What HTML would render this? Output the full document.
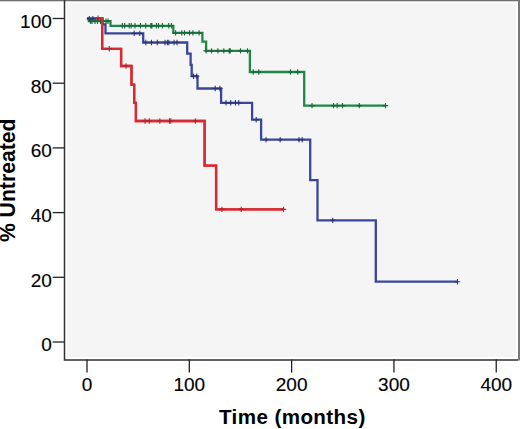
<!DOCTYPE html>
<html><head><meta charset="utf-8"><style>
html,body{margin:0;padding:0;background:#fff;}
body{width:520px;height:429px;overflow:hidden;}
svg{display:block;}
.t{font-family:"Liberation Sans",sans-serif;font-size:19px;fill:#000;stroke:#000;stroke-width:0.15px;}
.b{font-family:"Liberation Sans",sans-serif;font-size:21.2px;font-weight:bold;fill:#000;}
</style></head><body>
<svg width="520" height="429" viewBox="0 0 520 429">
<rect x="0" y="0" width="520" height="429" fill="#fff"/>
<rect x="64.5" y="0.7" width="454.40" height="358.90" fill="#fff"/>
<rect x="67.00" y="3.20" width="449.40" height="353.90" fill="#f5f5f5"/>
<path d="M87.00,18.30 L102.20,18.30 L102.20,48.80 L121.10,48.80 L121.10,66.00 L131.50,66.00 L131.50,84.60 L134.20,84.60 L134.20,102.90 L135.90,102.90 L135.90,121.00 L204.60,121.00 L204.60,165.60 L216.10,165.60 L216.10,209.40 L283.50,209.40" fill="none" stroke="#d82a32" stroke-width="2.3" stroke-linejoin="miter" stroke-linecap="butt"/>
<path d="M87.00,19.00 L89.00,19.00 L89.00,21.20 L110.50,21.20 L110.50,25.80 L173.30,25.80 L173.30,32.90 L202.40,32.90 L202.40,41.70 L206.10,41.70 L206.10,50.90 L249.90,50.90 L249.90,72.00 L304.20,72.00 L304.20,105.60 L385.50,105.60" fill="none" stroke="#1f8846" stroke-width="2.3" stroke-linejoin="miter" stroke-linecap="butt"/>
<path d="M90.50,18.50 V23.90 M87.80,21.20 H93.20 M92.00,18.50 V23.90 M89.30,21.20 H94.70 M95.00,18.50 V23.90 M92.30,21.20 H97.70 M97.50,18.50 V23.90 M94.80,21.20 H100.20 M100.50,18.50 V23.90 M97.80,21.20 H103.20 M106.00,18.50 V23.90 M103.30,21.20 H108.70 M108.00,18.50 V23.90 M105.30,21.20 H110.70 M122.30,23.10 V28.50 M119.60,25.80 H125.00 M124.60,23.10 V28.50 M121.90,25.80 H127.30 M129.20,23.10 V28.50 M126.50,25.80 H131.90 M131.20,23.10 V28.50 M128.50,25.80 H133.90 M135.00,23.10 V28.50 M132.30,25.80 H137.70 M140.40,23.10 V28.50 M137.70,25.80 H143.10 M145.80,23.10 V28.50 M143.10,25.80 H148.50 M150.80,23.10 V28.50 M148.10,25.80 H153.50 M151.90,23.10 V28.50 M149.20,25.80 H154.60 M156.50,23.10 V28.50 M153.80,25.80 H159.20 M158.50,23.10 V28.50 M155.80,25.80 H161.20 M162.30,23.10 V28.50 M159.60,25.80 H165.00 M168.70,23.10 V28.50 M166.00,25.80 H171.40 M171.40,23.10 V28.50 M168.70,25.80 H174.10 M175.60,30.20 V35.60 M172.90,32.90 H178.30 M181.80,30.20 V35.60 M179.10,32.90 H184.50 M184.50,30.20 V35.60 M181.80,32.90 H187.20 M189.50,30.20 V35.60 M186.80,32.90 H192.20 M192.90,30.20 V35.60 M190.20,32.90 H195.60 M199.10,30.20 V35.60 M196.40,32.90 H201.80 M206.10,48.20 V53.60 M203.40,50.90 H208.80 M211.50,48.20 V53.60 M208.80,50.90 H214.20 M217.90,48.20 V53.60 M215.20,50.90 H220.60 M223.80,48.20 V53.60 M221.10,50.90 H226.50 M229.20,48.20 V53.60 M226.50,50.90 H231.90 M230.30,48.20 V53.60 M227.60,50.90 H233.00 M240.50,48.20 V53.60 M237.80,50.90 H243.20 M247.50,48.20 V53.60 M244.80,50.90 H250.20 M253.20,69.30 V74.70 M250.50,72.00 H255.90 M258.80,69.30 V74.70 M256.10,72.00 H261.50 M290.50,69.30 V74.70 M287.80,72.00 H293.20 M297.70,69.30 V74.70 M295.00,72.00 H300.40 M312.00,102.90 V108.30 M309.30,105.60 H314.70 M333.60,102.90 V108.30 M330.90,105.60 H336.30 M337.20,102.90 V108.30 M334.50,105.60 H339.90 M342.50,102.90 V108.30 M339.80,105.60 H345.20 M359.30,102.90 V108.30 M356.60,105.60 H362.00 M385.50,102.90 V108.30 M382.80,105.60 H388.20" fill="none" stroke="#18663a" stroke-width="1.1"/>
<path d="M87.00,18.60 L102.60,18.60 L102.60,24.40 L105.50,24.40 L105.50,33.40 L143.20,33.40 L143.20,42.50 L187.20,42.50 L187.20,53.60 L190.60,53.60 L190.60,64.90 L191.70,64.90 L191.70,76.20 L197.50,76.20 L197.50,88.50 L221.10,88.50 L221.10,102.80 L252.10,102.80 L252.10,119.70 L261.10,119.70 L261.10,139.70 L310.20,139.70 L310.20,180.10 L317.50,180.10 L317.50,220.40 L375.80,220.40 L375.80,281.70 L457.50,281.70" fill="none" stroke="#3a469c" stroke-width="2.3" stroke-linejoin="miter" stroke-linecap="butt"/>
<path d="M89.40,15.90 V21.30 M86.70,18.60 H92.10 M92.80,15.90 V21.30 M90.10,18.60 H95.50 M134.20,30.70 V36.10 M131.50,33.40 H136.90 M139.80,30.70 V36.10 M137.10,33.40 H142.50 M145.80,39.80 V45.20 M143.10,42.50 H148.50 M151.50,39.80 V45.20 M148.80,42.50 H154.20 M157.30,39.80 V45.20 M154.60,42.50 H160.00 M165.00,39.80 V45.20 M162.30,42.50 H167.70 M167.40,39.80 V45.20 M164.70,42.50 H170.10 M168.80,39.80 V45.20 M166.10,42.50 H171.50 M174.10,39.80 V45.20 M171.40,42.50 H176.80 M177.00,39.80 V45.20 M174.30,42.50 H179.70 M193.50,73.50 V78.90 M190.80,76.20 H196.20 M196.70,73.50 V78.90 M194.00,76.20 H199.40 M215.20,85.80 V91.20 M212.50,88.50 H217.90 M219.90,85.80 V91.20 M217.20,88.50 H222.60 M226.00,100.10 V105.50 M223.30,102.80 H228.70 M230.70,100.10 V105.50 M228.00,102.80 H233.40 M235.40,100.10 V105.50 M232.70,102.80 H238.10 M238.70,100.10 V105.50 M236.00,102.80 H241.40 M256.20,117.00 V122.40 M253.50,119.70 H258.90 M266.00,137.00 V142.40 M263.30,139.70 H268.70 M280.20,137.00 V142.40 M277.50,139.70 H282.90 M299.00,137.00 V142.40 M296.30,139.70 H301.70 M302.20,137.00 V142.40 M299.50,139.70 H304.90 M332.70,217.70 V223.10 M330.00,220.40 H335.40 M457.50,279.00 V284.40 M454.80,281.70 H460.20" fill="none" stroke="#2c3478" stroke-width="1.1"/>
<path d="M96.50,18.30 L102.20,18.30 L102.20,48.80 L121.10,48.80 L121.10,66.00 L131.50,66.00 L131.50,84.60 L134.20,84.60 L134.20,102.90 L135.90,102.90 L135.90,121.00 L204.60,121.00 L204.60,165.60 L216.10,165.60 L216.10,209.40 L283.50,209.40" fill="none" stroke="#d82a32" stroke-width="2.3" stroke-linejoin="miter" stroke-linecap="butt"/>
<path d="M98.00,15.60 V21.00 M95.30,18.30 H100.70 M109.30,46.10 V51.50 M106.60,48.80 H112.00 M126.00,63.30 V68.70 M123.30,66.00 H128.70 M145.00,118.30 V123.70 M142.30,121.00 H147.70 M149.20,118.30 V123.70 M146.50,121.00 H151.90 M159.80,118.30 V123.70 M157.10,121.00 H162.50 M169.40,118.30 V123.70 M166.70,121.00 H172.10 M170.80,118.30 V123.70 M168.10,121.00 H173.50 M195.40,118.30 V123.70 M192.70,121.00 H198.10 M221.90,206.70 V212.10 M219.20,209.40 H224.60 M241.20,206.70 V212.10 M238.50,209.40 H243.90 M283.50,206.70 V212.10 M280.80,209.40 H286.20" fill="none" stroke="#a82832" stroke-width="1.1"/>
<rect x="0" y="0" width="520" height="1" fill="#707070"/>
<rect x="0" y="1" width="520" height="0.3" fill="#707070"/>
<rect x="518" y="0" width="2" height="360.5" fill="#777"/>
<path d="M64.5,0 V359.9 H518" fill="none" stroke="#303030" stroke-width="1.5"/>
<path d="M52.7,342.00 H64.5" stroke="#222" stroke-width="1.3"/>
<text x="51.8" y="351.40" text-anchor="end" class="t">0</text>
<path d="M52.7,277.30 H64.5" stroke="#222" stroke-width="1.3"/>
<text x="51.8" y="286.70" text-anchor="end" class="t">20</text>
<path d="M52.7,212.60 H64.5" stroke="#222" stroke-width="1.3"/>
<text x="51.8" y="222.00" text-anchor="end" class="t">40</text>
<path d="M52.7,147.90 H64.5" stroke="#222" stroke-width="1.3"/>
<text x="51.8" y="157.30" text-anchor="end" class="t">60</text>
<path d="M52.7,83.20 H64.5" stroke="#222" stroke-width="1.3"/>
<text x="51.8" y="92.60" text-anchor="end" class="t">80</text>
<path d="M52.7,18.50 H64.5" stroke="#222" stroke-width="1.3"/>
<text x="51.8" y="27.90" text-anchor="end" class="t">100</text>
<path d="M87.00,359.6 V372.6" stroke="#222" stroke-width="1.3"/>
<text x="87.00" y="391.2" text-anchor="middle" class="t">0</text>
<path d="M189.31,359.6 V372.6" stroke="#222" stroke-width="1.3"/>
<text x="189.31" y="391.2" text-anchor="middle" class="t">100</text>
<path d="M291.62,359.6 V372.6" stroke="#222" stroke-width="1.3"/>
<text x="291.62" y="391.2" text-anchor="middle" class="t">200</text>
<path d="M393.93,359.6 V372.6" stroke="#222" stroke-width="1.3"/>
<text x="393.93" y="391.2" text-anchor="middle" class="t">300</text>
<path d="M496.24,359.6 V372.6" stroke="#222" stroke-width="1.3"/>
<text x="496.24" y="391.2" text-anchor="middle" class="t">400</text>
<text x="219.0" y="424.0" class="b" style="letter-spacing:0.4px;font-size:20.6px">Time (months)</text>
<text transform="translate(15.3,180.3) rotate(-90)" x="0" y="0" text-anchor="middle" class="b">% Untreated</text>
</svg>
</body></html>
